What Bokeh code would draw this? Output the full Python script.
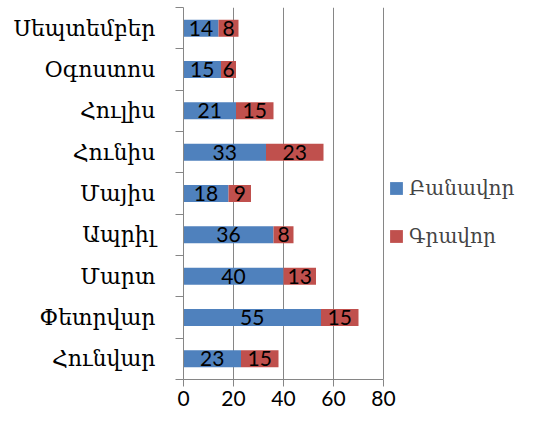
from bokeh.plotting import figure
from bokeh.models import ColumnDataSource, Range1d, FixedTicker, Legend, LegendItem
from bokeh.core.properties import value
from bokeh.embed import file_html
from bokeh.resources import INLINE

months = ["Հունվար", "Փետրվար", "Մարտ", "Ապրիլ", "Մայիս", "Հունիս", "Հուլիս", "Օգոստոս", "Սեպտեմբեր"]
oral = [23, 55, 40, 36, 18, 33, 21, 15, 14]
written = [15, 15, 13, 8, 9, 23, 15, 6, 8]
series_names = ["Բանավոր", "Գրավոր"]
x_ticks = [0, 20, 40, 60, 80]

BLUE = "#4F81BD"
RED = "#C0504D"
GRAY = "#868686"

ys = [i + 0.5 for i in range(len(months))]
tot = [a + b for a, b in zip(oral, written)]
src = ColumnDataSource(dict(
    y=ys, oral=oral, written=written, tot=tot,
    oral_mid=[a / 2 for a in oral],
    wr_mid=[a + b / 2 for a, b in zip(oral, written)],
    oral_lbl=[str(a) for a in oral],
    wr_lbl=[str(b) for b in written],
))

# frame spans to the right canvas edge so the legend fits inside; axis/grid bounded to 0..80
p = figure(width=518, height=414, output_backend="svg", toolbar_location=None,
           x_range=Range1d(0, 134), y_range=Range1d(0, len(months)),
           min_border_left=183, min_border_right=0, min_border_top=7, min_border_bottom=35)
p.outline_line_color = None

r1 = p.hbar(y="y", left=0, right="oral", height=0.41, source=src, fill_color=BLUE, line_color=None)
r2 = p.hbar(y="y", left="oral", right="tot", height=0.41, source=src, fill_color=RED, line_color=None)

for xc, lc in (("oral_mid", "oral_lbl"), ("wr_mid", "wr_lbl")):
    p.text(x=xc, y="y", text=lc, source=src, text_align="center", text_baseline="middle",
           text_font=value("Lato"), text_font_size="21px", text_color="black")

# x axis
p.xaxis.ticker = FixedTicker(ticks=x_ticks)
p.xaxis.bounds = (0, 80)
p.xaxis.axis_line_color = GRAY
p.xaxis.major_tick_line_color = GRAY
p.xaxis.major_tick_out = 7
p.xaxis.major_tick_in = 0
p.xaxis.minor_tick_line_color = None
p.xaxis.major_label_text_font = "Lato"
p.xaxis.major_label_text_font_size = "21px"
p.xaxis.major_label_text_color = "black"
p.xaxis.major_label_standoff = 4

# y axis
p.yaxis.ticker = FixedTicker(ticks=ys, minor_ticks=list(range(len(months) + 1)))
p.yaxis.major_label_overrides = {y: m for y, m in zip(ys, months)}
p.yaxis.axis_line_color = GRAY
p.yaxis.major_tick_line_color = None
p.yaxis.minor_tick_line_color = GRAY
p.yaxis.minor_tick_out = 8
p.yaxis.minor_tick_in = 0
p.yaxis.major_label_text_font = "DejaVu Serif"
p.yaxis.major_label_text_font_size = "22px"
p.yaxis.major_label_text_color = "black"
p.yaxis.major_label_standoff = 20

p.ygrid.visible = False
p.xgrid.ticker = FixedTicker(ticks=x_ticks[1:])
p.xgrid.grid_line_color = GRAY

legend = Legend(items=[LegendItem(label=series_names[0], renderers=[r1]),
                       LegendItem(label=series_names[1], renderers=[r2])],
                location=(205, 131))
legend.glyph_width = 16
legend.glyph_height = 16
legend.label_height = 16
legend.spacing = 24
legend.padding = 0
legend.margin = 0
legend.border_line_color = None
legend.background_fill_alpha = 0
legend.label_text_font = "DejaVu Serif"
legend.label_text_font_size = "20px"
legend.label_standoff = 5
p.add_layout(legend)

open("out.html", "w").write(file_html(p, INLINE))
